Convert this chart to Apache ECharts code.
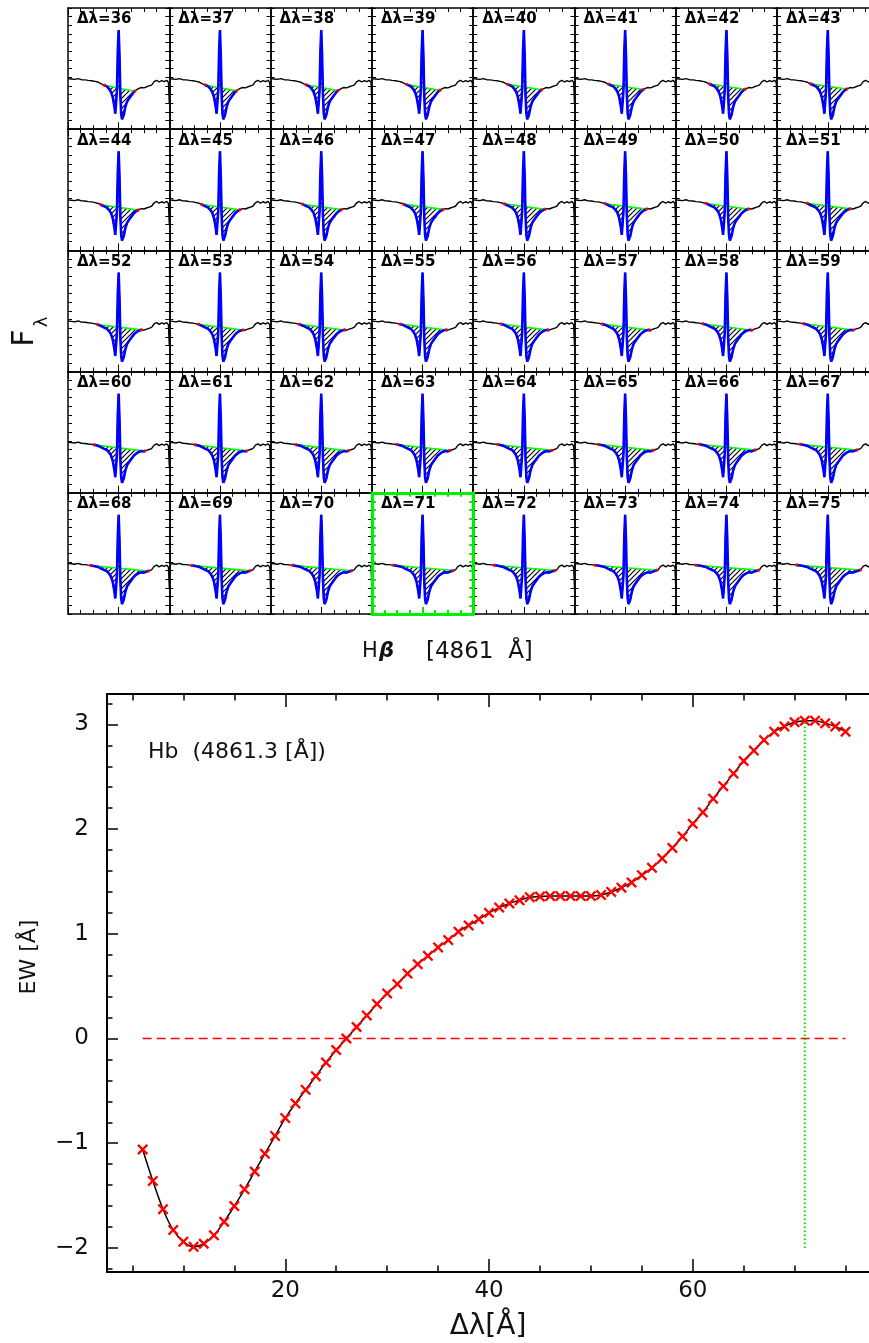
<!DOCTYPE html>
<html>
<head>
<meta charset="utf-8">
<script src="https://cdn.jsdelivr.net/npm/echarts@6/dist/echarts.min.js"></script>
<style>
html, body { margin: 0; padding: 0; background: #fff; }
#main { width: 869px; height: 1343px; }
</style>
</head>
<body>
<div id="main"></div>
<script>
// spectrum around Hbeta (wavelength in A, flux in arbitrary units)
var wave = [4800,4804,4808,4812,4816,4820,4824,4828,4832,4836,4840,4843,4846,4849,4851,4853,4855,4856,4857,4858,
            4859,4860,4861,4862,4863,4864,4865,4866,4868,4870,4872,4875,4878,4881,4884,4887,4890,4893,4896,4899,
            4902,4905,4908,4911,4914,4917,4919,4920];
var flux = [5.84,5.80,5.75,5.85,5.72,5.70,5.64,5.60,5.52,5.42,5.22,5.08,4.95,4.62,4.30,3.70,2.60,1.80,1.95,4.50,
            9.00,11.45,8.50,4.00,1.80,1.15,1.20,1.65,2.60,3.20,3.50,3.90,4.30,4.55,4.72,4.82,4.78,4.90,5.00,5.10,
            5.50,5.65,5.45,5.62,5.50,5.65,5.40,3.00];
var lineCentre = 4861;

// window widths shown in the small panels
var panelDelta = [36,37,38,39,40,41,42,43,44,45,46,47,48,49,50,51,52,53,54,55,
                  56,57,58,59,60,61,62,63,64,65,66,67,68,69,70,71,72,73,74,75];
var bestDelta = 71;

// equivalent width against window width
var ewDelta = [6,7,8,9,10,11,12,13,14,15,16,17,18,19,20,21,22,23,24,25,
               26,27,28,29,30,31,32,33,34,35,36,37,38,39,40,41,42,43,44,45,
               46,47,48,49,50,51,52,53,54,55,56,57,58,59,60,61,62,63,64,65,
               66,67,68,69,70,71,72,73,74,75];
var ew = [-1.06,-1.36,-1.63,-1.83,-1.94,-1.99,-1.96,-1.88,-1.75,-1.60,-1.44,-1.27,-1.10,-0.93,-0.76,-0.62,-0.49,-0.36,-0.23,-0.11,
          0.00,0.11,0.22,0.33,0.43,0.52,0.62,0.71,0.79,0.87,0.94,1.02,1.08,1.14,1.20,1.25,1.29,1.32,1.35,1.355,
          1.36,1.36,1.36,1.36,1.36,1.37,1.40,1.44,1.49,1.56,1.63,1.72,1.82,1.93,2.05,2.16,2.29,2.41,2.53,2.65,
          2.75,2.85,2.93,2.98,3.02,3.035,3.035,3.01,2.98,2.93];
var guideBottom = -2;

// tick positions of the EW plot
var xMajorTicks = [20, 40, 60];
var xMinorTicks = [5,10,15,25,30,35,45,50,55,65,70,75];
var yMajorTicks = [-2, -1, 0, 1, 2, 3];
var yMinorTicks = [-2.2,-1.8,-1.6,-1.4,-1.2,-0.8,-0.6,-0.4,-0.2,0.2,0.4,0.6,0.8,
                   1.2,1.4,1.6,1.8,2.2,2.4,2.6,2.8,3.2];

var myChart = echarts.init(document.getElementById('main'));
var pageW = 869;

function interp(x) {
  for (var i = 1; i < wave.length; i++) {
    if (x <= wave[i]) {
      var t = (x - wave[i - 1]) / (wave[i] - wave[i - 1]);
      return flux[i - 1] + t * (flux[i] - flux[i - 1]);
    }
  }
  return flux[flux.length - 1];
}

// diagonal hatching
var hatch = document.createElement('canvas');
hatch.width = 5; hatch.height = 5;
(function () {
  var g = hatch.getContext('2d');
  g.strokeStyle = '#000';
  g.lineWidth = 1.2;
  g.beginPath();
  g.moveTo(-1, 6); g.lineTo(6, -1);
  g.moveTo(-1, 1); g.lineTo(1, -1);
  g.moveTo(4, 6); g.lineTo(6, 4);
  g.stroke();
})();

var grids = [], xAxes = [], yAxes = [], series = [], graphics = [];
var font = 'DejaVu Sans';

// ---- small panels ----
var pLeft = 68, pTop = 8, pW = 101.3, pH = 121.2;
var wMin = 4800, wMax = 4920;
var specPts = wave.map(function (w, i) { return [w, flux[i]]; });

panelDelta.forEach(function (d, k) {
  var col = k % 8, row = Math.floor(k / 8);
  var left = pLeft + col * pW, top = pTop + row * pH;
  // the last column runs off the page: keep the same scale, show less
  var w = Math.min(pW, pageW - left);
  var cut = w < pW;
  var xMax = wMin + (wMax - wMin) * w / pW;
  var hi = d === bestDelta;
  var fc = hi ? '#00ee00' : '#000';
  var gi = grids.length;
  grids.push({ left: left, top: top, width: w, height: pH });
  var xi = xAxes.length, yi = yAxes.length;
  ['bottom', 'top'].forEach(function (pos) {
    xAxes.push({
      type: 'value', gridIndex: gi, position: pos, min: wMin, max: xMax, interval: 60, z: hi ? 5 : 0,
      axisLine: { onZero: false, lineStyle: { color: fc, width: hi ? 3 : 1.5 } },
      axisTick: { inside: true, length: 7, lineStyle: { color: fc, width: hi ? 2 : 1 } },
      minorTick: { show: true, splitNumber: 4, length: 4, lineStyle: { color: fc, width: hi ? 2 : 1 } },
      axisLabel: { show: false }, splitLine: { show: false }
    });
  });
  ['left', 'right'].forEach(function (pos) {
    var off = pos === 'right' && cut;
    yAxes.push({
      type: 'value', gridIndex: gi, position: pos, min: 0, max: 14, interval: 1, z: hi ? 5 : 0,
      axisLine: { show: !off, onZero: false, lineStyle: { color: fc, width: hi ? 3 : 1.5 } },
      axisTick: { show: !off, inside: true, length: 4, lineStyle: { color: fc, width: hi ? 2 : 1 } },
      axisLabel: { show: false }, splitLine: { show: false }
    });
  });

  var lo = lineCentre - d / 2, up = lineCentre + d / 2;
  var ends = [[lo, interp(lo)], [up, interp(up)]];
  var seg = [ends[0]].concat(specPts.filter(function (p) { return p[0] > lo && p[0] < up; })).concat([ends[1]]);

  series.push({ type: 'line', xAxisIndex: xi, yAxisIndex: yi, data: specPts, symbol: 'none', silent: true,
    lineStyle: { color: '#000', width: 1.4 }, z: 2 });
  series.push({ type: 'custom', xAxisIndex: xi, yAxisIndex: yi, data: [[lineCentre, 7]], silent: true, z: 3,
    renderItem: (function (s) {
      return function (params, api) {
        return { type: 'polygon', shape: { points: s.map(function (p) { return api.coord(p); }) },
                 style: { fill: { image: hatch, repeat: 'repeat' }, stroke: null } };
      };
    })(seg) });
  series.push({ type: 'line', xAxisIndex: xi, yAxisIndex: yi, data: ends, symbol: 'none', silent: true,
    lineStyle: { color: '#00ff00', width: 1.6 }, z: 4 });
  series.push({ type: 'line', xAxisIndex: xi, yAxisIndex: yi, data: seg, symbol: 'none', silent: true,
    lineStyle: { color: '#0000ff', width: 2.6 }, z: 5 });
  series.push({ type: 'scatter', xAxisIndex: xi, yAxisIndex: yi, data: ends, symbolSize: 3.5, silent: true,
    itemStyle: { color: '#ff0000' }, z: 6 });

  graphics.push({ type: 'text', x: left + 9, y: top + 4, z: 50,
    style: { text: '\u0394\u03bb=' + d, fontSize: 15, fontWeight: 'bold', fontFamily: font, fill: '#000',
             align: 'left', verticalAlign: 'top' } });
});

// ---- EW curve ----
function signed(v) {
  return v < 0 ? '\u2212' + Math.abs(v) : String(v);
}
var bg = grids.length;
var ewRect = { left: 107, top: 694, width: pageW - 107, height: 578 };
grids.push(ewRect);
grids.push(Object.assign({}, ewRect));
var bx = xAxes.length, by = yAxes.length;
var xLo = 2.5, xHi = 77.3, yLo = -2.23, yHi = 3.29;
var axLine = { onZero: false, lineStyle: { color: '#000', width: 2 } };
var noLine = { show: false, onZero: false };
var tickStyle = { color: '#000', width: 1.5 };
xAxes.push({ type: 'value', gridIndex: bg, position: 'bottom', min: xLo, max: xHi,
  axisLine: axLine, axisTick: { inside: true, length: 13, lineStyle: tickStyle, customValues: xMajorTicks },
  axisLabel: { customValues: xMajorTicks, fontSize: 23, fontFamily: font, color: '#111', margin: 8 }, splitLine: { show: false } });
xAxes.push({ type: 'value', gridIndex: bg, position: 'top', min: xLo, max: xHi,
  axisLine: axLine, axisTick: { inside: true, length: 13, lineStyle: tickStyle, customValues: xMajorTicks },
  axisLabel: { show: false }, splitLine: { show: false } });
xAxes.push({ type: 'value', gridIndex: bg + 1, position: 'bottom', min: xLo, max: xHi,
  axisLine: noLine, axisTick: { inside: true, length: 6.5, lineStyle: tickStyle, customValues: xMinorTicks },
  axisLabel: { show: false }, splitLine: { show: false } });
xAxes.push({ type: 'value', gridIndex: bg + 1, position: 'top', min: xLo, max: xHi,
  axisLine: noLine, axisTick: { inside: true, length: 6.5, lineStyle: tickStyle, customValues: xMinorTicks },
  axisLabel: { show: false }, splitLine: { show: false } });
yAxes.push({ type: 'value', gridIndex: bg, position: 'left', min: yLo, max: yHi,
  axisLine: axLine, axisTick: { inside: true, length: 11, lineStyle: tickStyle, customValues: yMajorTicks },
  axisLabel: { customValues: yMajorTicks, formatter: signed, fontSize: 23, fontFamily: font, color: '#111', margin: 18 },
  splitLine: { show: false } });
yAxes.push({ type: 'value', gridIndex: bg + 1, position: 'left', min: yLo, max: yHi,
  axisLine: noLine, axisTick: { inside: true, length: 5.5, lineStyle: tickStyle, customValues: yMinorTicks },
  axisLabel: { show: false }, splitLine: { show: false } });

var bestEw = ew[ewDelta.indexOf(bestDelta)];
series.push({ type: 'line', xAxisIndex: bx, yAxisIndex: by, symbol: 'none', silent: true,
  data: [[ewDelta[0], 0], [ewDelta[ewDelta.length - 1], 0]],
  lineStyle: { color: '#ff0000', width: 1.5, type: [9, 5] } });
series.push({ type: 'line', xAxisIndex: bx, yAxisIndex: by, symbol: 'none', silent: true,
  data: [[bestDelta, guideBottom], [bestDelta, bestEw]],
  lineStyle: { color: '#00e000', width: 2, type: [1.5, 2.5] } });
series.push({ type: 'line', xAxisIndex: bx, yAxisIndex: by, silent: true, smooth: 0.4,
  data: ewDelta.map(function (x, i) { return [x, ew[i]]; }),
  symbol: 'path://M0,1.5L1.5,0L5,3.5L8.5,0L10,1.5L6.5,5L10,8.5L8.5,10L5,6.5L1.5,10L0,8.5L3.5,5Z',
  symbolSize: 11, showSymbol: true, showAllSymbol: true,
  itemStyle: { color: '#ff0000' }, lineStyle: { color: '#000', width: 1.5 } });

// ---- titles ----
function txt(x, y, s, size, extra) {
  var st = { text: s, fontSize: size, fontFamily: font, fill: '#111', align: 'center', verticalAlign: 'middle' };
  var el = { type: 'text', x: x, y: y, z: 50, style: st };
  if (extra) {
    if (extra.rotation) el.rotation = extra.rotation;
    for (var key in extra.style || {}) st[key] = extra.style[key];
  }
  graphics.push(el);
}
txt(25, 338, 'F', 30, { rotation: Math.PI / 2 });
txt(42, 322, '\u03bb', 18, { rotation: Math.PI / 2 });
var bot = { align: 'left', verticalAlign: 'bottom' };
txt(362, 662, 'H', 21, { style: bot });
txt(379, 662, '\u03b2', 21, { style: { align: 'left', verticalAlign: 'bottom', fontStyle: 'italic', fontWeight: 'bold' } });
txt(426, 664, '[4861  \u00c5]', 23, { style: bot });
txt(148, 752, 'Hb  (4861.3 [\u00c5])', 22, { style: { align: 'left' } });
txt(29, 957, 'EW [\u00c5]', 22, { rotation: Math.PI / 2 });
txt(488, 1327, '\u0394\u03bb[\u00c5]', 28);

option = {
  animation: false,
  grid: grids,
  xAxis: xAxes,
  yAxis: yAxes,
  series: series,
  graphic: graphics
};
myChart.setOption(option);
</script>
</body>
</html>
